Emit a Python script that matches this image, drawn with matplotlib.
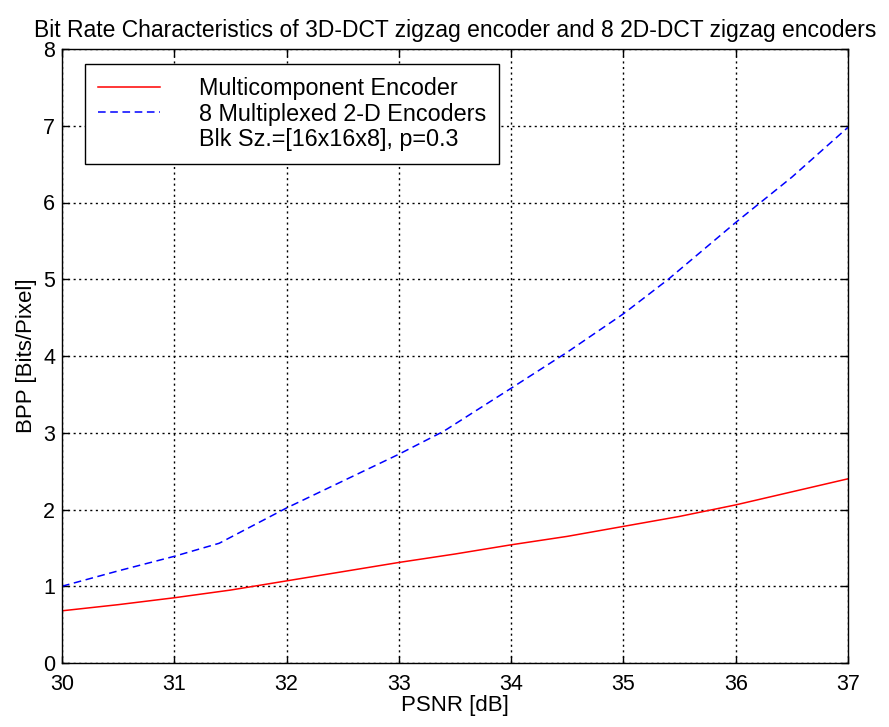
import matplotlib
matplotlib.use('Agg')
import matplotlib.pyplot as plt
from matplotlib.lines import Line2D

plt.rcParams['font.family'] = ['Liberation Sans', 'DejaVu Sans']

# Multicomponent (3-D) encoder
psnr_3d = [30, 30.5, 31, 31.5, 32, 32.5, 33, 33.5, 34, 34.5, 35, 35.5, 36, 36.5, 37]
bpp_3d = [0.68, 0.76, 0.85, 0.95, 1.07, 1.19, 1.31, 1.42, 1.54, 1.65, 1.78, 1.91, 2.06, 2.23, 2.40]

# 8 multiplexed 2-D encoders
psnr_2d = [30, 30.5, 31, 31.4, 32, 32.5, 33, 33.4, 34, 34.5, 35, 35.4, 36, 36.5, 37]
bpp_2d = [1.0, 1.2, 1.39, 1.56, 2.02, 2.37, 2.72, 3.02, 3.58, 4.05, 4.55, 5.0, 5.74, 6.33, 6.98]

legend_labels = ['Multicomponent Encoder', '8 Multiplexed 2-D Encoders',
                 'Blk Sz.=[16x16x8], p=0.3']

fig = plt.figure(figsize=(8.89, 7.27), dpi=100)
fig.patch.set_facecolor('white')
ax = fig.add_axes([62/889, 64/727, 786/889, 614/727])

ax.plot(psnr_3d, bpp_3d, color='#ff0000', lw=1.1, ls='-')
ax.plot(psnr_2d, bpp_2d, color='#0000ff', lw=1.1, ls=(0, (5, 3)))

ax.set_xlim(30, 37)
ax.set_ylim(0, 8)
ax.set_xticks(range(30, 38))
ax.set_yticks(range(0, 9))
ax.grid(True, color='black', ls=(0, (1.5, 2.5)), lw=1.0)
ax.tick_params(direction='in', length=5, top=True, right=True, labelsize=15.5, width=1)
ax.tick_params(axis='x', pad=8)
ax.tick_params(axis='y', pad=5)
for s in ax.spines.values():
    s.set_linewidth(1.0)

ax.set_xlabel('PSNR [dB]', fontsize=16, labelpad=0)
ax.set_ylabel('BPP [Bits/Pixel]', fontsize=16, labelpad=4)
ax.set_title('Bit Rate Characteristics of 3D-DCT zigzag encoder and 8 2D-DCT zigzag encoders',
             fontsize=16.5, pad=9)

handles = [Line2D([], [], color='#ff0000', lw=1.1),
           Line2D([], [], color='#0000ff', lw=1.1, ls=(0, (5, 3))),
           Line2D([], [], color='none')]
leg = ax.legend(handles, legend_labels, loc='upper left', bbox_to_anchor=(0.0293, 0.9756),
                fontsize=16.8, handlelength=2.65, handletextpad=1.7, labelspacing=0.12,
                fancybox=False, framealpha=1, edgecolor='black', borderpad=0.55,
                borderaxespad=0)
leg.get_frame().set_linewidth(1.0)

fig.savefig('out.png', dpi=100, facecolor='white')
